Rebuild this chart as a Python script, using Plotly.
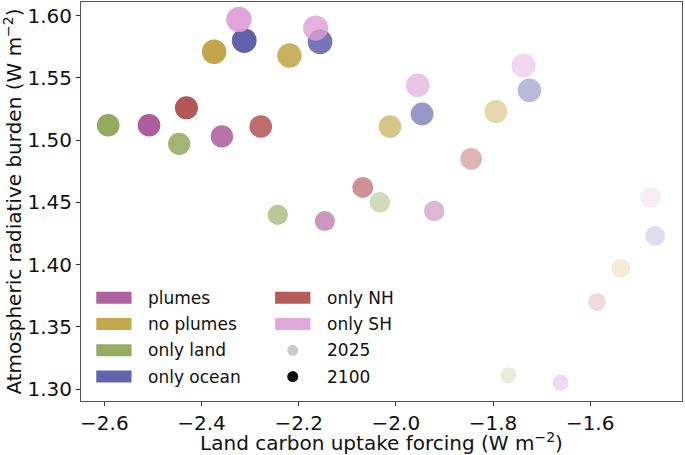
import plotly.graph_objects as go

# ---------------------------------------------------------------------------------------
# Data: land carbon uptake forcing (x) vs atmospheric radiative burden (y)
# one point per year, 2025 -> 2100
# ---------------------------------------------------------------------------------------
years = [2025, 2040, 2060, 2080, 2100]

series_names = ['plumes', 'no plumes', 'only land', 'only ocean', 'only NH', 'only SH']
series_colors = ['#a55194', '#bd9e39', '#8ca252', '#5254a3', '#ad494a', '#de9ed6']

plumes_x = [-1.661, -1.921, -2.146, -2.358, -2.508]
plumes_y = [1.305, 1.443, 1.435, 1.503, 1.512]

no_plumes_x = [-1.537, -1.794, -2.012, -2.219, -2.374]
no_plumes_y = [1.397, 1.523, 1.511, 1.568, 1.571]

only_land_x = [-1.768, -2.033, -2.243, -2.446, -2.592]
only_land_y = [1.311, 1.450, 1.440, 1.497, 1.512]

only_ocean_x = [-1.466, -1.725, -1.946, -2.156, -2.312]
only_ocean_y = [1.423, 1.540, 1.521, 1.579, 1.580]

only_nh_x = [-1.586, -1.845, -2.068, -2.278, -2.431]
only_nh_y = [1.370, 1.485, 1.462, 1.511, 1.526]

only_sh_x = [-1.476, -1.737, -1.955, -2.165, -2.323]
only_sh_y = [1.454, 1.560, 1.544, 1.590, 1.597]

series_x = [plumes_x, no_plumes_x, only_land_x, only_ocean_x, only_nh_x, only_sh_x]
series_y = [plumes_y, no_plumes_y, only_land_y, only_ocean_y, only_nh_y, only_sh_y]

x_ticks = [-2.6, -2.4, -2.2, -2.0, -1.8, -1.6]
y_ticks = [1.30, 1.35, 1.40, 1.45, 1.50, 1.55, 1.60]

# style : transparence selon l'annee, taille selon le forcage
year_alpha = [0.2, 0.4, 0.6, 0.8, 0.92]

def marker_size(y):
    return 16 + (y - 1.305) * 32

fig = go.Figure()

for name, color, xs, ys in zip(series_names, series_colors, series_x, series_y):
    fig.add_trace(go.Scatter(
        x=xs, y=ys,
        mode='markers',
        name=name,
        text=[str(a) for a in years],
        marker=dict(color=color, size=[marker_size(v) for v in ys],
                    opacity=year_alpha, line=dict(width=0)),
        showlegend=False
    ))

# ---------------------------------------------------------------------------------------
# Legende manuelle facon matplotlib (2 colonnes, patches + cercles)
# ---------------------------------------------------------------------------------------
font = "DejaVu Sans"
legend_items = [(n, c, 'patch') for n, c in zip(series_names, series_colors)]
legend_items += [('2025', 'rgba(0,0,0,0.2)', 'dot'), ('2100', 'rgba(0,0,0,0.95)', 'dot')]

row_y = [0.2585, 0.1927, 0.1270, 0.0612]   # paper coords of the 4 rows
col_x = [0.0254, 0.3230]                   # swatch left edge
shapes = []
annotations = []
for i, (label, color, kind) in enumerate(legend_items):
    col = i // 4
    row = i % 4
    x0 = col_x[col]
    y = row_y[row]
    if kind == 'patch':
        shapes.append(dict(type='rect', xref='paper', yref='paper',
                           x0=x0, x1=x0 + 0.0587, y0=-6, y1=6,
                           ysizemode='pixel', yanchor=y,
                           fillcolor=color, opacity=0.9,
                           line=dict(width=0)))
    else:
        xc = x0 + 0.0293
        shapes.append(dict(type='circle', xref='paper', yref='paper',
                           xsizemode='pixel', ysizemode='pixel',
                           xanchor=xc, yanchor=y,
                           x0=-5.5, x1=5.5, y0=-5.5, y1=5.5,
                           fillcolor=color, line=dict(width=0)))
    annotations.append(dict(x=x0 + 0.083, y=y, xref='paper', yref='paper',
                            text=label, showarrow=False, xanchor='left',
                            yanchor='middle', font=dict(size=17, color='#111111')))

fig.update_layout(
    width=685, height=455,
    margin=dict(l=81, r=3, t=2, b=54),
    plot_bgcolor='white', paper_bgcolor='white',
    font=dict(family=font, size=20, color='#111111'),
    shapes=shapes,
    annotations=annotations,
    showlegend=False
)

fig.update_xaxes(
    range=[-2.648, -1.411],
    tickvals=x_ticks, tickformat='.1f',
    ticks='outside', ticklen=4, tickcolor='#333333',
    showline=True, mirror=True, linecolor='#555555', linewidth=1,
    showgrid=False, zeroline=False, automargin=False,
    title=dict(text='Land carbon uptake forcing (W m<sup>−2</sup>)', font=dict(size=20), standoff=4)
)
fig.update_yaxes(
    range=[1.2904, 1.611],
    tickvals=y_ticks, tickformat='.2f',
    ticks='outside', ticklen=4, tickcolor='#333333',
    showline=True, mirror=True, linecolor='#555555', linewidth=1,
    showgrid=False, zeroline=False, automargin=False,
    title=dict(text='Atmospheric radiative burden (W m<sup>−2</sup>)', font=dict(size=20), standoff=4)
)

# la page html a une marge de 8px par defaut : on l'enleve
fig.write_html("out.html", config={'displayModeBar': False},
               post_script="document.body.style.margin='0';")
